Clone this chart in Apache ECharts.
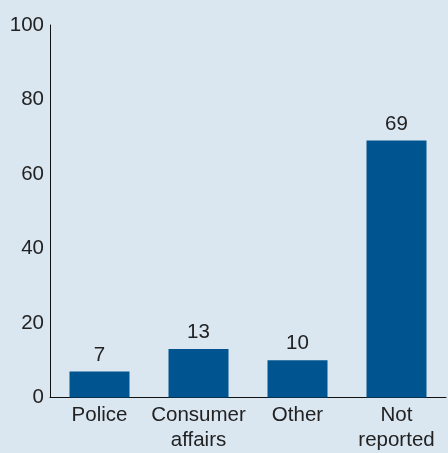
<!DOCTYPE html>
<html><head><meta charset="utf-8">
<script src="https://cdn.jsdelivr.net/npm/echarts@6/dist/echarts.min.js"></script>
<style>html,body{margin:0;padding:0;background:#dae6f0;}#c{width:448px;height:453px;}</style>
</head><body><div id="c"></div>
<script>
const categories = ['Police', 'Consumer\naffairs', 'Other', 'Not\nreported'];
const values = [7, 13, 10, 69];
const yTicks = [0, 20, 40, 60, 80, 100];
const font = '"Liberation Sans", Helvetica, Arial, sans-serif';
const chart = echarts.init(document.getElementById('c'), null, {renderer: 'canvas'});
chart.setOption({
  backgroundColor: '#dae6f0',
  animation: false,
  grid: {left: 50, right: 2, top: 25, bottom: 55.5, containLabel: false},
  xAxis: {
    type: 'category', data: categories,
    axisLine: {lineStyle: {color: '#111', width: 1}},
    axisTick: {show: false},
    axisLabel: {color: '#222', fontSize: 20.5, fontFamily: font, margin: 5, lineHeight: 25, interval: 0}
  },
  yAxis: {
    type: 'value', min: yTicks[0], max: yTicks[yTicks.length - 1], interval: 20,
    axisLine: {show: true, lineStyle: {color: '#111', width: 1}},
    axisTick: {show: false},
    splitLine: {show: false},
    axisLabel: {color: '#222', fontSize: 20.5, fontFamily: font, margin: 6}
  },
  series: [{
    type: 'bar', data: values, barWidth: 60,
    itemStyle: {color: '#00548f'},
    label: {show: true, position: 'top', distance: 6, color: '#222', fontSize: 20.5, fontFamily: font}
  }]
});
</script></body></html>
